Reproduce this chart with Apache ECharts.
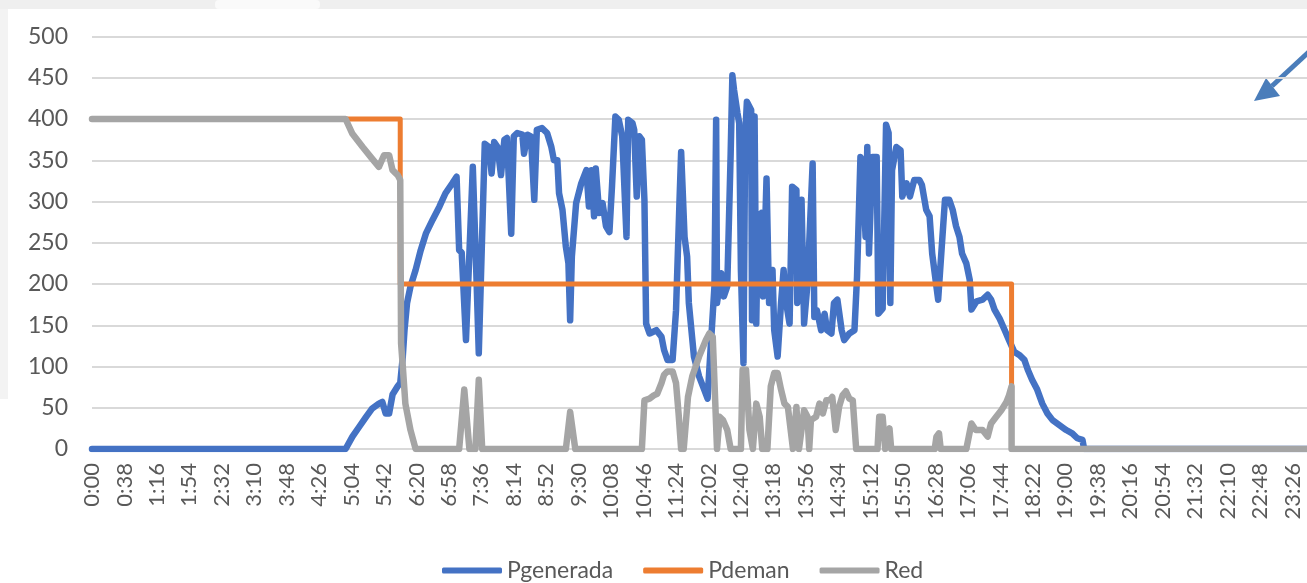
<!DOCTYPE html>
<html>
<head>
<meta charset="utf-8">
<script src="https://cdn.jsdelivr.net/npm/echarts@6/dist/echarts.min.js"></script>
<style>
  html, body { margin: 0; padding: 0; background: #ffffff; }
  #chart { width: 1307px; height: 583px; }
</style>
</head>
<body>
<div id="chart"></div>
<script>
// x = minutes after midnight, y = power
const seriesNames = ['Pgenerada', 'Pdeman', 'Red'];
const seriesColors = ['#4472C4', '#ED7D31', '#A5A5A5'];
const seriesWidths = [6.5, 5, 6.5];

const yTicks = [0, 50, 100, 150, 200, 250, 300, 350, 400, 450, 500];
const xTickStep = 38; // minutes between time labels (0:00, 0:38, 1:16 ...)

const pGenerada = [
  [0,0],[297,0],[305,15],[313,27],[321,39],[328,49],[336,55],[340,57],[344,43],[348,43],
  [352,66],[358,76],[361,80],[364,112],[366,144],[369,177],[373,197],[379,217],[385,241],
  [391,261],[399,278],[407,294],[414,310],[422,322],[427,330],[430,241],[433,238],[438,132],
  [446,342],[450,217],[453,116],[460,370],[465,366],[468,334],[471,372],[475,366],[479,332],
  [483,375],[486,377],[491,261],[494,379],[498,383],[504,381],[506,358],[510,381],[514,379],
  [518,302],[521,387],[527,389],[533,383],[538,366],[541,350],[545,350],[547,310],[551,290],
  [555,245],[558,225],[560,156],[562,233],[567,298],[573,322],[579,338],[582,294],[585,338],
  [588,282],[590,340],[594,286],[598,298],[602,270],[606,263],[609,318],[613,403],[617,399],
  [621,379],[626,257],[628,399],[633,395],[635,387],[638,306],[641,379],[644,375],[647,302],
  [649,152],[653,140],[661,144],[667,136],[670,120],[674,108],[680,108],[684,168],[688,298],
  [690,360],[694,257],[697,233],[699,177],[705,112],[711,88],[717,72],[721,61],[723,96],
  [729,197],[731,399],[732,177],[737,213],[740,185],[744,197],[748,358],[750,453],[752,435],
  [756,407],[758,395],[760,217],[763,104],[765,379],[767,421],[772,411],[773,156],[776,403],
  [778,152],[780,282],[784,286],[786,185],[790,328],[793,177],[797,217],[799,144],[803,112],
  [807,177],[810,217],[813,177],[817,152],[820,318],[825,314],[826,177],[831,302],[834,152],
  [838,201],[844,346],[846,160],[849,168],[854,144],[858,164],[861,144],[866,140],[869,177],
  [873,181],[878,144],[881,132],[887,140],[893,144],[896,209],[900,354],[902,350],[906,257],
  [908,366],[910,237],[914,354],[919,354],[921,164],[926,170],[930,393],[933,383],[935,177],
  [937,338],[942,366],[947,362],[949,306],[954,322],[958,306],[963,326],[969,326],[972,320],
  [977,290],[981,282],[984,237],[989,197],[991,181],[996,257],[999,302],[1004,302],[1008,290],
  [1012,270],[1016,257],[1019,237],[1024,225],[1028,205],[1030,169],[1036,179],[1043,181],
  [1049,187],[1053,181],[1057,169],[1063,158],[1069,144],[1074,132],[1080,118],[1086,114],
  [1092,108],[1096,96],[1101,84],[1107,72],[1113,55],[1119,43],[1125,35],[1133,29],[1141,23],
  [1148,19],[1154,13],[1160,11],[1162,0],[1439,0]
];

const pDeman = [
  [0,400],[361,400],[361,200],[1077,200],[1077,0],[1439,0]
];

const red = [
  [0,400],[297,400],[305,382],[317,366],[328,352],[336,342],[342,356],[348,356],[352,338],
  [358,332],[361,326],[362,128],[364,100],[367,55],[373,23],[379,0],
  [430,0],[436,72],[442,0],[449,0],[453,84],[457,0],
  [555,0],[560,45],[566,0],
  [644,0],[647,59],[653,61],[658,65],[662,67],[667,80],[670,90],[674,94],[680,94],[684,80],
  [687,43],[690,0],[693,0],[698,63],[703,88],[711,112],[719,132],[723,140],[727,136],[730,55],
  [732,0],[735,39],[739,35],[744,23],[748,0],[760,0],[762,96],[766,96],[770,23],[774,0],
  [778,55],[782,39],[785,0],[791,0],[795,76],[799,92],[803,92],[807,72],[811,55],[815,51],
  [817,51],[821,0],[825,51],[828,0],[834,47],[838,39],[840,0],[842,35],[848,39],[852,55],
  [856,43],[860,59],[864,59],[867,63],[871,23],[875,51],[879,65],[883,70],[887,61],[891,59],
  [895,0],[920,0],[922,39],[926,39],[929,0],[931,0],[934,25],[936,0],
  [987,0],[989,15],[992,19],[994,0],
  [1024,0],[1030,31],[1035,23],[1043,23],[1049,15],[1053,31],[1059,39],[1065,47],[1071,57],
  [1074,65],[1077,76],[1077,0],[1439,0]
];

function timeLabel(v) {
  const h = Math.floor(v / 60);
  const m = Math.round(v % 60);
  return h + ':' + String(m).padStart(2, '0');
}

const font = 'Lato, "Noto Sans", sans-serif';
const textColor = '#595959';

const chart = echarts.init(document.getElementById('chart'), null, { renderer: 'canvas' });

const dataSets = [pGenerada, pDeman, red];

chart.setOption({
  animation: false,
  backgroundColor: '#ffffff',
  grid: { left: 92, right: 0, top: 36.5, bottom: 134, containLabel: false },
  xAxis: {
    type: 'value',
    min: 0,
    max: 1423,
    interval: xTickStep,
    axisLine: { show: true, lineStyle: { color: '#d9d9d9', width: 1.5 } },
    axisTick: { show: false },
    splitLine: { show: false },
    axisLabel: {
      rotate: 90,
      margin: 14,
      color: textColor,
      fontFamily: font,
      fontSize: 22,
      showMaxLabel: false,
      formatter: timeLabel
    }
  },
  yAxis: {
    type: 'value',
    min: yTicks[0],
    max: yTicks[yTicks.length - 1],
    interval: yTicks[1] - yTicks[0],
    axisLine: { show: false },
    axisTick: { show: false },
    splitLine: { lineStyle: { color: '#d9d9d9', width: 2 } },
    axisLabel: { margin: 24, color: textColor, fontFamily: font, fontSize: 23 }
  },
  legend: {
    left: 437,
    top: 554,
    icon: 'roundRect',
    itemWidth: 60,
    itemHeight: 6,
    itemGap: 30,
    textStyle: { color: textColor, fontFamily: font, fontSize: 23 },
    data: seriesNames
  },
  series: seriesNames.map((name, i) => ({
    name: name,
    type: 'line',
    data: dataSets[i],
    showSymbol: false,
    symbol: 'none',
    color: seriesColors[i],
    lineStyle: { width: seriesWidths[i], color: seriesColors[i], cap: 'round', join: 'round' }
  })),
  graphic: [
    // faint frame strips around the plot
    { type: 'rect', shape: { x: 0, y: 0, width: 1307, height: 9 }, style: { fill: '#efefef' }, silent: true },
    { type: 'rect', shape: { x: 215, y: 0, width: 105, height: 9, r: 4 }, style: { fill: '#fafafa' }, silent: true },
    { type: 'rect', shape: { x: 0, y: 9, width: 8, height: 390 }, style: { fill: '#f3f3f3' }, silent: true },
    // blue callout arrow at the top right
    { type: 'line', shape: { x1: 1312, y1: 49, x2: 1272, y2: 86 }, style: { stroke: '#4a7dba', lineWidth: 5 }, silent: true },
    { type: 'polygon', shape: { points: [[1254, 101], [1266, 78], [1280, 96]] }, style: { fill: '#4a7dba' }, silent: true }
  ]
});
</script>
</body>
</html>
